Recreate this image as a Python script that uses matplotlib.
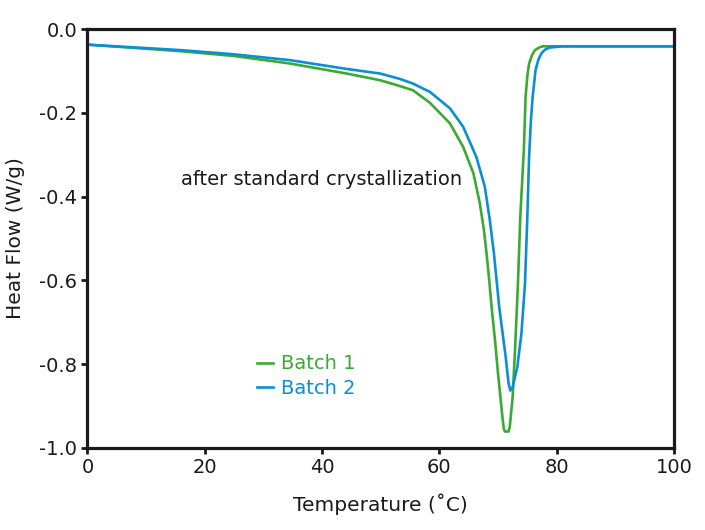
import numpy as np
import matplotlib.pyplot as plt

# Batch 1 (green) trace
t1 = [0, 15.8, 24.9, 34.5, 44.2, 49.9, 53.3, 55.5, 58.4, 61.8, 64.05, 65.8, 66.9,
      67.6, 68.1, 68.5, 68.9, 69.5, 70.0, 70.8, 71.0, 71.2, 71.8, 72.0, 72.5,
      72.9, 73.4, 73.8, 74.4, 74.7, 75.0, 75.3, 75.8, 76.3, 77.0, 77.6, 80, 100]
hf1 = [-0.037, -0.0525, -0.064, -0.082, -0.106, -0.122, -0.136, -0.146, -0.176,
       -0.225, -0.281, -0.344, -0.416, -0.480, -0.543, -0.599, -0.663, -0.745,
       -0.822, -0.933, -0.955, -0.961, -0.961, -0.950, -0.878, -0.766, -0.607,
       -0.448, -0.289, -0.162, -0.112, -0.082, -0.062, -0.050, -0.044, -0.041,
       -0.041, -0.041]

# Batch 2 (blue) trace
t2 = [0, 15.8, 24.9, 34.5, 44.2, 49.9, 53.3, 55.5, 58.4, 61.8, 64.05, 66.3,
      67.75, 68.6, 69.3, 70.2, 71.3, 71.8, 72.1, 72.5, 73.3, 74.0, 74.6, 75.0,
      75.3, 75.6, 75.9, 76.4, 76.9, 77.4, 78.0, 78.8, 81, 100]
hf2 = [-0.037, -0.050, -0.060, -0.074, -0.095, -0.106, -0.119, -0.130, -0.150,
       -0.189, -0.233, -0.305, -0.376, -0.456, -0.535, -0.663, -0.782, -0.846,
       -0.863, -0.855, -0.806, -0.726, -0.607, -0.448, -0.305, -0.220, -0.162,
       -0.098, -0.072, -0.058, -0.049, -0.044, -0.041, -0.041]

green = "#3aaa35"
blue = "#0a8fd4"
ink = "#1a1a1a"

plt.rcParams["font.family"] = "DejaVu Sans"

fig = plt.figure(figsize=(7.05, 5.3), dpi=100)
ax = fig.add_axes([0.124, 0.155, 0.832, 0.79])

ax.plot(t1, hf1, color=green, lw=1.9, label="Batch 1")
ax.plot(t2, hf2, color=blue, lw=1.9, label="Batch 2")

ax.set_xlim(0, 100)
ax.set_ylim(-1.0, 0.0)
ax.set_xticks([0, 20, 40, 60, 80, 100])
ax.set_yticks(np.arange(-1.0, 0.01, 0.2))
ax.set_yticklabels(["-1.0", "-0.8", "-0.6", "-0.4", "-0.2", "0.0"])

for s in ax.spines.values():
    s.set_linewidth(2.3)
    s.set_color(ink)
ax.tick_params(direction="out", length=4, width=2, labelsize=14, colors=ink)

ax.set_xlabel("Temperature (\u02daC)", fontsize=14.5, color=ink, labelpad=12)
ax.set_ylabel("Heat Flow (W/g)", fontsize=14.5, color=ink, labelpad=10)

ax.text(40, -0.36, "after standard crystallization", fontsize=14,
        ha="center", va="center", color=ink)

ax.legend(loc="upper left", bbox_to_anchor=(0.26, 0.265), frameon=False,
          fontsize=14, handlelength=0.8, handletextpad=0.4, labelspacing=0.3,
          labelcolor="linecolor")

fig.savefig("out.png", dpi=100)
